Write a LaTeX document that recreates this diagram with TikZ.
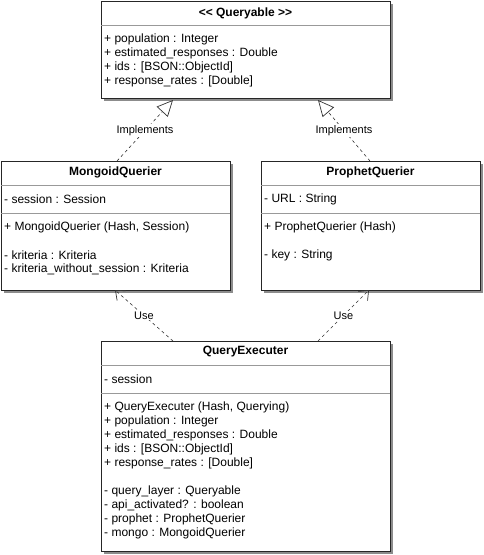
\documentclass[tikz,border=0pt]{standalone}
\usepackage{fontspec}
\setmainfont{Liberation Sans}
\usetikzlibrary{arrows.meta,shadows}
\begin{document}
\begin{tikzpicture}[x=1pt,y=-1pt,
  cls/.style={draw=black!85, fill=white, line width=0.9pt, rectangle, inner sep=0pt, outer sep=0pt,
    anchor=north west,
    drop shadow={shadow xshift=3pt, shadow yshift=-3pt, fill=black!45, opacity=1}},
  sepline/.style={draw=black!40, line width=0.8pt},
  ctitle/.style={font=\fontsize{12}{14}\selectfont\bfseries, inner sep=0pt},
  member/.style={font=\fontsize{12}{14}\selectfont, inner sep=0pt, anchor=west},
  rel/.style={draw=black!80, line width=0.6pt, dash pattern=on 3pt off 3pt},
  implements/.style={rel, -{Triangle[open, length=16pt, width=15pt, line width=0.7pt, fill=white]}},
  uses/.style={rel, -{Straight Barb[length=8pt, width=13pt, line width=0.7pt]}},
  rellabel/.style={font=\fontsize{11}{13}\selectfont, fill=white, inner sep=1pt}
]
\useasboundingbox (0,0) rectangle (484,555);

% --- interface Queryable ---
\node[cls, minimum width=289pt, minimum height=97pt] (q) at (101,1) {};
\draw[sepline] ([yshift=-24pt]q.north west) -- ([yshift=-24pt]q.north east);
\node[ctitle] (qt) at (245.5,13) {<\kern0pt< Queryable >\kern0pt>};
\node[member] (q1) at (104,39) {+ population : Integer};
\node[member] (q2) at (104,53) {+ estimated\_responses : Double};
\node[member] (q3) at (104,67) {+ ids : [BSON::ObjectId]};
\node[member] (q4) at (104,81) {+ response\_rates : [Double]};

% --- MongoidQuerier ---
\node[cls, minimum width=229pt, minimum height=129pt] (m) at (1,161) {};
\draw[sepline] ([yshift=-24pt]m.north west) -- ([yshift=-24pt]m.north east);
\draw[sepline] ([yshift=-52pt]m.north west) -- ([yshift=-52pt]m.north east);
\node[ctitle] (mt) at (115.5,172) {MongoidQuerier};
\node[member] (m1) at (4,199) {- session : Session};
\node[member] (m2) at (4,227) {+ MongoidQuerier (Hash, Session)};
\node[member] (m3) at (4,255) {- kriteria : Kriteria};
\node[member] (m4) at (4,269) {- kriteria\_without\_session : Kriteria};

% --- ProphetQuerier ---
\node[cls, minimum width=219pt, minimum height=129pt] (p) at (261,161) {};
\draw[sepline] ([yshift=-24pt]p.north west) -- ([yshift=-24pt]p.north east);
\draw[sepline] ([yshift=-52pt]p.north west) -- ([yshift=-52pt]p.north east);
\node[ctitle] (pt) at (370.5,172) {ProphetQuerier};
\node[member] (p1) at (264,199) {- URL : String};
\node[member] (p2) at (264,227) {+ ProphetQuerier (Hash)};
\node[member] (p3) at (264,255) {- key : String};

% --- QueryExecuter ---
\node[cls, minimum width=289pt, minimum height=210pt] (e) at (101,341) {};
\draw[sepline] ([yshift=-24pt]e.north west) -- ([yshift=-24pt]e.north east);
\draw[sepline] ([yshift=-52pt]e.north west) -- ([yshift=-52pt]e.north east);
\node[ctitle] (et) at (245.5,352) {QueryExecuter};
\node[member] (e1) at (104,379) {- session};
\node[member] (e2) at (104,407) {+ QueryExecuter (Hash, Querying)};
\node[member] (e3) at (104,421) {+ population : Integer};
\node[member] (e4) at (104,435) {+ estimated\_responses : Double};
\node[member] (e5) at (104,449) {+ ids : [BSON::ObjectId]};
\node[member] (e6) at (104,463) {+ response\_rates : [Double]};
\node[member] (e7) at (104,491) {- query\_layer : Queryable};
\node[member] (e8) at (104,505) {- api\_activated? : boolean};
\node[member] (e9) at (104,519) {- prophet : ProphetQuerier};
\node[member] (e10) at (104,533) {- mongo : MongoidQuerier};

% --- relations ---
\draw[implements] ([xshift=116pt]m.north west) -- node[rellabel] {Implements} ([xshift=72pt,yshift=-2pt]q.south west);
\draw[implements] ([xshift=109pt]p.north west) -- node[rellabel] {Implements} ([xshift=217pt,yshift=-2pt]q.south west);
\draw[uses] ([xshift=72pt]e.north west) -- node[rellabel] {Use} ([xshift=114pt]m.south west);
\draw[uses] ([xshift=217pt]e.north west) -- node[rellabel] {Use} ([xshift=108pt]p.south west);
\end{tikzpicture}
\end{document}
